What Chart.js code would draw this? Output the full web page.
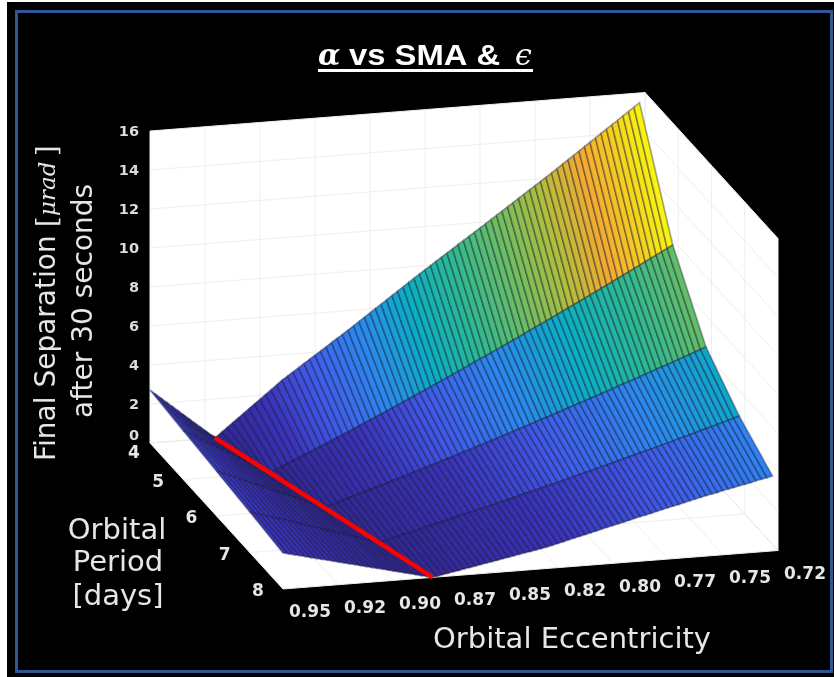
<!DOCTYPE html>
<html>
<head>
<meta charset="utf-8">
<title>alpha vs SMA</title>
<script src="https://cdn.jsdelivr.net/npm/chart.js@4/dist/chart.umd.min.js"></script>
<style>
    body { margin: 0; background: #fff; }
    #negro { position: absolute; left: 7px; top: 2px; width: 827px; height: 675px; background: #000; }
    #marco { position: absolute; left: 15px; top: 10px; width: 812px; height: 657px; border: 3px solid #2f5597; }
    #grafico { position: absolute; left: 0; top: 0; filter: blur(0.7px); }
</style>
</head>
<body>
<div id="negro"></div>
<div id="marco"></div>
<canvas id="grafico" width="834" height="677"></canvas>
<script>
// ticks
const eccTicks = [0.95, 0.925, 0.9, 0.875, 0.85, 0.825, 0.8, 0.775, 0.75, 0.725];
const eccLabels = ["0.95", "0.92", "0.90", "0.87", "0.85", "0.82", "0.80", "0.77", "0.75", "0.72"];
const periods = [4, 5, 6, 7, 8];
const zTicks = [0, 2, 4, 6, 8, 10, 12, 14, 16];

// eccentricity of each mesh column
const eccMesh = [
    0.95, 0.9475, 0.945, 0.9425, 0.94, 0.9375, 0.935, 0.9325, 0.93, 0.9275,
    0.925, 0.9225, 0.92, 0.9175, 0.915, 0.9125, 0.91, 0.9075, 0.905, 0.9025,
    0.9, 0.8975, 0.895, 0.8925, 0.89, 0.8875, 0.885, 0.8825, 0.88, 0.8775,
    0.875, 0.8725, 0.87, 0.8675, 0.865, 0.8625, 0.86, 0.8575, 0.855, 0.8525,
    0.85, 0.8475, 0.845, 0.8425, 0.84, 0.8375, 0.835, 0.8325, 0.83, 0.8275,
    0.825, 0.8225, 0.82, 0.8175, 0.815, 0.8125, 0.81, 0.8075, 0.805, 0.8025,
    0.8, 0.7975, 0.795, 0.7925, 0.79, 0.7875, 0.785, 0.7825, 0.78, 0.7775,
    0.775, 0.7725, 0.77, 0.7675, 0.765, 0.7625, 0.76, 0.7575, 0.755, 0.7525,
    0.75, 0.7475, 0.745, 0.7425, 0.74, 0.7375, 0.735, 0.7325, 0.73, 0.7275
];

// final separation per period, one value per mesh column
const sepP4 = [
    2.72, 2.49, 2.26, 2.03, 1.80, 1.57, 1.34, 1.11, 0.88, 0.65,
    0.42, 0.19, 0.04, 0.27, 0.49, 0.71, 0.93, 1.15, 1.37, 1.59,
    1.81, 2.03, 2.25, 2.47, 2.70, 2.89, 3.08, 3.27, 3.47, 3.66,
    3.85, 4.04, 4.23, 4.43, 4.62, 4.81, 5.00, 5.20, 5.40, 5.60,
    5.80, 6.00, 6.20, 6.40, 6.60, 6.80, 7.00, 7.20, 7.40, 7.60,
    7.79, 7.98, 8.18, 8.37, 8.56, 8.75, 8.95, 9.14, 9.33, 9.52,
    9.71, 9.91, 10.10, 10.30, 10.49, 10.69, 10.88, 11.08, 11.27, 11.47,
    11.66, 11.86, 12.05, 12.25, 12.45, 12.66, 12.86, 13.06, 13.26, 13.47,
    13.67, 13.87, 14.08, 14.28, 14.48, 14.68, 14.89, 15.09, 15.29, 15.50
];
const sepP5 = [
    2.50, 2.34, 2.18, 2.02, 1.86, 1.70, 1.55, 1.39, 1.23, 1.07,
    0.91, 0.75, 0.59, 0.43, 0.28, 0.12, 0.03, 0.15, 0.28, 0.40,
    0.53, 0.65, 0.78, 0.90, 1.03, 1.15, 1.28, 1.41, 1.54, 1.66,
    1.79, 1.92, 2.05, 2.18, 2.31, 2.44, 2.57, 2.70, 2.83, 2.97,
    3.10, 3.23, 3.36, 3.50, 3.63, 3.77, 3.90, 4.04, 4.17, 4.31,
    4.44, 4.58, 4.72, 4.86, 5.00, 5.13, 5.27, 5.41, 5.55, 5.69,
    5.83, 5.97, 6.11, 6.26, 6.40, 6.54, 6.68, 6.82, 6.97, 7.11,
    7.26, 7.40, 7.55, 7.69, 7.84, 7.98, 8.13, 8.28, 8.43, 8.58,
    8.72, 8.87, 9.02, 9.17, 9.32, 9.47, 9.62, 9.77, 9.92, 10.07
];
const sepP6 = [
    2.30, 2.18, 2.07, 1.95, 1.83, 1.71, 1.60, 1.48, 1.36, 1.25,
    1.13, 1.01, 0.89, 0.78, 0.66, 0.54, 0.42, 0.31, 0.19, 0.07,
    0.03, 0.12, 0.21, 0.30, 0.39, 0.47, 0.56, 0.65, 0.74, 0.83,
    0.92, 1.01, 1.10, 1.19, 1.28, 1.37, 1.46, 1.56, 1.65, 1.74,
    1.83, 1.93, 2.02, 2.11, 2.21, 2.30, 2.39, 2.49, 2.58, 2.68,
    2.77, 2.87, 2.97, 3.06, 3.16, 3.26, 3.35, 3.45, 3.55, 3.65,
    3.74, 3.84, 3.94, 4.04, 4.14, 4.24, 4.34, 4.44, 4.54, 4.64,
    4.74, 4.84, 4.94, 5.05, 5.15, 5.25, 5.35, 5.45, 5.56, 5.66,
    5.77, 5.87, 5.97, 6.08, 6.18, 6.29, 6.39, 6.50, 6.61, 6.71
];
const sepP7 = [
    2.08, 1.99, 1.90, 1.81, 1.73, 1.64, 1.55, 1.46, 1.37, 1.28,
    1.19, 1.11, 1.02, 0.93, 0.84, 0.75, 0.66, 0.58, 0.49, 0.40,
    0.31, 0.22, 0.13, 0.04, 0.03, 0.10, 0.17, 0.24, 0.31, 0.38,
    0.45, 0.52, 0.60, 0.67, 0.74, 0.81, 0.88, 0.95, 1.03, 1.10,
    1.17, 1.24, 1.32, 1.39, 1.46, 1.54, 1.61, 1.69, 1.76, 1.84,
    1.91, 1.99, 2.06, 2.14, 2.22, 2.29, 2.37, 2.45, 2.52, 2.60,
    2.68, 2.76, 2.83, 2.91, 2.99, 3.07, 3.15, 3.23, 3.31, 3.39,
    3.47, 3.55, 3.63, 3.71, 3.79, 3.87, 3.95, 4.03, 4.12, 4.20,
    4.28, 4.36, 4.45, 4.53, 4.61, 4.70, 4.78, 4.87, 4.95, 5.04
];
const sepP8 = [
    1.85, 1.78, 1.71, 1.65, 1.58, 1.51, 1.44, 1.37, 1.31, 1.24,
    1.17, 1.10, 1.03, 0.97, 0.90, 0.83, 0.76, 0.69, 0.63, 0.56,
    0.49, 0.42, 0.35, 0.29, 0.22, 0.15, 0.08, 0.01, 0.04, 0.10,
    0.15, 0.20, 0.25, 0.31, 0.36, 0.41, 0.47, 0.52, 0.57, 0.62,
    0.68, 0.73, 0.78, 0.84, 0.89, 0.94, 0.99, 1.05, 1.10, 1.17,
    1.24, 1.31, 1.38, 1.45, 1.52, 1.59, 1.66, 1.73, 1.80, 1.87,
    1.94, 2.01, 2.08, 2.15, 2.22, 2.29, 2.35, 2.42, 2.49, 2.56,
    2.63, 2.70, 2.76, 2.83, 2.90, 2.97, 3.04, 3.10, 3.16, 3.22,
    3.29, 3.35, 3.41, 3.47, 3.53, 3.59, 3.66, 3.72, 3.78, 3.84
];
const separation = [sepP4, sepP5, sepP6, sepP7, sepP8];

// red line, where the separation is zero
const zeroEcc = [0.9205, 0.9106, 0.901, 0.8914, 0.882];
const zeroSep = [0, 0, 0, 0, 0];

// the view is almost orthographic, so a plain affine projection is enough
function proyectar(ecc, periodo, sep) {
    const u = (0.95 - ecc) / 0.225;
    const v = (periodo - 4) / 4;
    const w = sep / 16;
    return {
        x: 150 + 495 * u + 133 * v,
        y: 443 - 38.5 * u + 146 * v - 312 * w
    };
}

const rampa = [
    [0, 50, 38, 145], [0.12, 58, 50, 185], [0.22, 65, 88, 232], [0.33, 45, 135, 240],
    [0.45, 10, 175, 195], [0.55, 45, 185, 145], [0.65, 105, 190, 100], [0.75, 175, 190, 60],
    [0.85, 245, 170, 50], [0.93, 245, 210, 30], [1, 250, 250, 15]
];
function colorDe(sep) {
    const t = Math.min(1, sep / 15.5);
    let i = 0;
    while (i < rampa.length - 2 && t > rampa[i + 1][0]) i++;
    const a = rampa[i], b = rampa[i + 1];
    const f = (t - a[0]) / (b[0] - a[0]);
    const c = [1, 2, 3].map(k => Math.round(a[k] + (b[k] - a[k]) * f));
    return `rgb(${c[0]},${c[1]},${c[2]})`;
}

const ds = [];

function poligono(puntos, relleno, borde, ancho) {
    ds.push({
        data: puntos.concat([puntos[0]]),
        showLine: true,
        fill: 'shape',
        backgroundColor: relleno,
        borderColor: borde,
        borderWidth: ancho,
        pointRadius: 0,
        tension: 0
    });
}
function linea(puntos, color, ancho) {
    ds.push({
        data: puntos,
        showLine: true,
        fill: false,
        borderColor: color,
        borderWidth: ancho,
        pointRadius: 0,
        tension: 0
    });
}

// walls and floor
const eMax = eccTicks[0], eMin = eccTicks[9];
poligono([proyectar(eMax, 4, 0), proyectar(eMin, 4, 0), proyectar(eMin, 4, 16), proyectar(eMax, 4, 16)], '#fff', '#fff', 0);
poligono([proyectar(eMin, 4, 0), proyectar(eMin, 8, 0), proyectar(eMin, 8, 16), proyectar(eMin, 4, 16)], '#fff', '#fff', 0);
poligono([proyectar(eMax, 4, 0), proyectar(eMax, 8, 0), proyectar(eMin, 8, 0), proyectar(eMin, 4, 0)], '#fff', '#fff', 0);

// grid
const gris = '#eeeeee';
eccTicks.forEach(e => {
    linea([proyectar(e, 4, 0), proyectar(e, 4, 16)], gris, 1);
    linea([proyectar(e, 4, 0), proyectar(e, 8, 0)], gris, 1);
});
periods.forEach(p => {
    linea([proyectar(eMin, p, 0), proyectar(eMin, p, 16)], gris, 1);
    linea([proyectar(eMax, p, 0), proyectar(eMin, p, 0)], gris, 1);
});
zTicks.forEach(z => {
    linea([proyectar(eMax, 4, z), proyectar(eMin, 4, z), proyectar(eMin, 8, z)], gris, 1);
});

// surface
for (let r = 0; r < periods.length - 1; r++) {
    for (let i = 0; i < eccMesh.length - 1; i++) {
        poligono([
            proyectar(eccMesh[i], periods[r], separation[r][i]),
            proyectar(eccMesh[i + 1], periods[r], separation[r][i + 1]),
            proyectar(eccMesh[i + 1], periods[r + 1], separation[r + 1][i + 1]),
            proyectar(eccMesh[i], periods[r + 1], separation[r + 1][i])
        ], colorDe(separation[r][i]), 'rgba(10,15,40,0.36)', 1.7);
    }
}

linea(periods.map((p, i) => proyectar(zeroEcc[i], p, zeroSep[i])), '#ff0000', 4.5);

function texto(ctx, str, x, y, font, color, align, rot, escala) {
    ctx.save();
    ctx.translate(x, y);
    if (rot) ctx.rotate(rot);
    if (escala) ctx.scale(escala, 1);
    ctx.font = font;
    ctx.fillStyle = color;
    ctx.textAlign = align || 'center';
    ctx.textBaseline = 'middle';
    ctx.fillText(str, 0, 0);
    ctx.restore();
}

const textos = {
    id: 'textos',
    afterDraw(chart) {
        const ctx = chart.ctx;
        const claro = '#e6e6e6';
        const fuenteTick = 'bold 17px "DejaVu Sans"';

        // title
        ctx.save();
        ctx.textBaseline = 'alphabetic';
        ctx.fillStyle = '#fff';
        ctx.font = 'italic bold 29px "DejaVu Serif"';
        ctx.fillText('α', 318, 65);
        ctx.font = 'italic 30px "DejaVu Serif"';
        ctx.fillText('ϵ', 515, 65);
        ctx.translate(349, 65);
        ctx.scale(1.13, 1);
        ctx.font = 'bold 29px "Liberation Sans"';
        ctx.fillText('vs SMA &', 0, 0);
        ctx.restore();
        ctx.fillStyle = '#fff';
        ctx.fillRect(318, 69, 215, 3);

        // ticks
        eccTicks.forEach((e, i) => {
            const p = proyectar(e, 8, 0);
            texto(ctx, eccLabels[i], p.x + 27, p.y + 24, fuenteTick, claro);
        });
        periods.forEach(per => {
            const p = proyectar(eMax, per, 0);
            if (per === 4) texto(ctx, per, p.x - 16, p.y + 11, fuenteTick, claro);
            else texto(ctx, per, p.x - 25, p.y + 3, fuenteTick, claro);
        });
        zTicks.forEach(z => {
            const p = proyectar(eMax, 4, z);
            texto(ctx, z, 139, z === 0 ? p.y - 7 : p.y + 1.5, 'bold 14.5px "DejaVu Sans"', '#dcdcdc', 'right');
        });

        // axis titles
        const fuente = '29px "DejaVu Sans"';
        texto(ctx, 'Final Separation', 48, 461, '28px "DejaVu Sans"', claro, 'left', -Math.PI / 2);
        texto(ctx, '[', 49, 227, '27px "DejaVu Serif"', claro, 'left', -Math.PI / 2);
        texto(ctx, 'μrad', 49, 216, 'italic 23px "DejaVu Serif"', claro, 'left', -Math.PI / 2);
        texto(ctx, ']', 49, 156, '27px "DejaVu Serif"', claro, 'left', -Math.PI / 2);
        texto(ctx, 'after 30 seconds', 85, 418, '28px "DejaVu Sans"', claro, 'left', -Math.PI / 2);

        texto(ctx, 'Orbital', 117, 531, fuente, claro);
        texto(ctx, 'Period', 118, 563, fuente, claro);
        texto(ctx, '[days]', 118, 597, fuente, claro);
        texto(ctx, 'Orbital Eccentricity', 572, 640, fuente, claro);
    }
};

new Chart(document.getElementById('grafico').getContext('2d'), {
    type: 'scatter',
    data: { datasets: ds.reverse() },
    options: {
        responsive: false,
        animation: false,
        events: [],
        layout: { padding: 0 },
        plugins: { legend: { display: false }, tooltip: { enabled: false } },
        scales: {
            x: { type: 'linear', min: 0, max: 834, display: false },
            y: { type: 'linear', min: 0, max: 677, reverse: true, display: false }
        }
    },
    plugins: [textos]
});
</script>
</body>
</html>
